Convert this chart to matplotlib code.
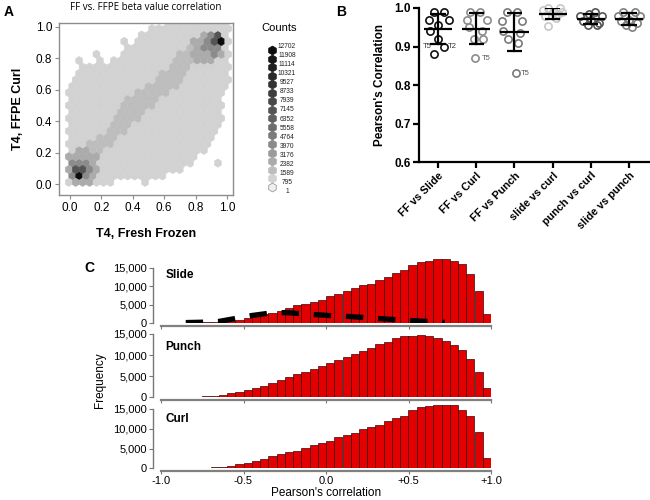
import numpy as np
import matplotlib
matplotlib.use('Agg')
import matplotlib.pyplot as plt
from matplotlib.path import Path
from matplotlib.colors import ListedColormap, BoundaryNorm
from matplotlib.ticker import FuncFormatter

plt.rcParams['font.family'] = ['Liberation Sans', 'DejaVu Sans']

# ---------------- Panel A data (hexbin density regions) ----------------
count_levels = [12702, 11908, 11114, 10321, 9527, 8733, 7939, 7145, 6352, 5558,
                4764, 3970, 3176, 2382, 1589, 795, 1]
level_greys = ['#0d0d0d', '#161616', '#1f1f1f', '#292929', '#333333', '#3d3d3d',
               '#484848', '#545454', '#616161', '#6e6e6e', '#7c7c7c', '#8b8b8b',
               '#9b9b9b', '#ababab', '#bdbdbd', '#d2d2d2', '#efefef']

# outer envelope of all points (lightest grey)
env_x = [-0.02, -0.02, 0.0, 0.03, 0.06, 0.25, 0.30, 0.36, 0.42, 0.48, 0.55, 0.63, 1.02,
         1.02, 1.02, 0.98, 0.96, 0.91, 0.85, 0.79, 0.70, 0.62, 0.51, 0.35, 0.10]
env_y = [-0.02, 0.53, 0.65, 0.72, 0.77, 0.78, 0.81, 0.87, 0.93, 0.98, 1.01, 1.03, 1.03,
         0.90, 0.62, 0.53, 0.39, 0.28, 0.20, 0.13, 0.09, 0.05, 0.03, 0.02, -0.02]
body_count = 795

# diagonal band (medium grey)
band_x = [0.02, 0.11, 0.21, 0.28, 0.36, 0.47, 0.57, 0.64, 0.70, 0.79, 0.85,
          0.95, 0.83, 0.74, 0.68, 0.57, 0.47, 0.40, 0.30, 0.19, 0.14, 0.04]
band_y = [0.20, 0.25, 0.33, 0.45, 0.56, 0.61, 0.68, 0.78, 0.83, 0.90, 0.95,
          0.82, 0.78, 0.71, 0.62, 0.53, 0.45, 0.37, 0.28, 0.18, 0.06, 0.0]
band_count = 1589

# dense spots near (0,0) and (1,1)
spot_x = [0.08, 0.065, 0.055, 0.05, 0.87, 0.91, 0.94, 0.965]
spot_y = [0.11, 0.085, 0.075, 0.07, 0.86, 0.89, 0.91, 0.93]
spot_r = [0.11, 0.07, 0.04, 0.0, 0.10, 0.07, 0.04, 0.0]
spot_count = [2382, 3970, 7145, 12702, 2382, 3970, 7145, 12702]

# isolated hexes
stray_x = [0.047, 0.19, 0.19, 0.33, 0.35, 0.47, 0.95]
stray_y = [0.77, 0.83, 0.79, 0.92, 0.04, 0.0, 0.14]

# ---------------- Panel B data ----------------
pair_labels = ['FF vs Slide', 'FF vs Curl', 'FF vs Punch', 'slide vs curl',
               'punch vs curl', 'slide vs punch']
r_ff_slide = [0.99, 0.99, 0.97, 0.97, 0.955, 0.94, 0.92, 0.90, 0.88]
r_ff_curl = [0.99, 0.99, 0.97, 0.97, 0.95, 0.94, 0.92, 0.92, 0.87]
r_ff_punch = [0.99, 0.99, 0.965, 0.965, 0.94, 0.935, 0.92, 0.91, 0.83]
r_slide_curl = [1.0, 1.0, 0.995, 0.99, 0.99, 0.985, 0.98, 0.975, 0.953]
r_punch_curl = [0.99, 0.985, 0.98, 0.98, 0.97, 0.965, 0.96, 0.955, 0.955]
r_slide_punch = [0.99, 0.99, 0.98, 0.98, 0.97, 0.965, 0.96, 0.955, 0.95]

jit_ff_slide = [-0.11, 0.15, -0.24, 0.28, 0.0, -0.22, 0.0, 0.15, -0.11]
jit_ff_curl = [-0.16, 0.10, -0.24, 0.28, -0.2, 0.15, -0.07, 0.17, -0.03]
jit_ff_punch = [-0.2, 0.06, -0.33, 0.19, -0.29, 0.15, -0.16, 0.10, 0.04]
jit_slide_curl = [-0.12, 0.18, -0.25, 0.25, 0.0, 0.15, -0.2, 0.08, -0.11]
jit_punch_curl = [0.10, -0.05, -0.28, 0.28, 0.0, -0.2, 0.22, -0.08, 0.15]
jit_slide_punch = [-0.15, 0.15, -0.3, 0.28, 0.0, -0.2, 0.2, -0.08, 0.08]

# ---------------- Panel C data (counts per 0.05-wide bin, -1.0 .. +1.0) ----------------
hist_slide = [50, 80, 100, 150, 200, 250, 350, 500, 700, 1000,
              1400, 1900, 2400, 2900, 3300, 4200, 4900, 5200, 5700, 6400,
              7300, 8000, 8800, 9400, 10200, 10600, 11600, 12500, 13600, 14500,
              15700, 16400, 16800, 17300, 17300, 16900, 15900, 13200, 8600, 2450]
hist_punch = [30, 40, 60, 80, 120, 200, 300, 500, 900, 1300,
              1700, 2100, 2700, 3400, 4000, 4700, 5400, 6100, 6800, 7500,
              8100, 8800, 9500, 10200, 11000, 11600, 12600, 13000, 14000, 14400,
              14600, 14800, 14600, 14100, 13300, 12400, 11200, 9100, 6100, 2300]
hist_curl = [30, 40, 60, 80, 120, 200, 300, 400, 700, 1000,
             1400, 1900, 2400, 3000, 3500, 4000, 4300, 5200, 5900, 6300,
             6900, 8000, 8300, 9000, 9900, 10500, 11000, 12000, 12600, 13300,
             14800, 15600, 15800, 16000, 16000, 15900, 14800, 13300, 9300, 2700]
null_x = [-0.85, -0.75, -0.65, -0.55, -0.45, -0.35, -0.25, -0.15, -0.05, 0.05,
          0.15, 0.25, 0.35, 0.45, 0.55, 0.65, 0.72]
null_y = [200, 300, 500, 1300, 2100, 2700, 2900, 2600, 2300, 2000,
          1800, 1500, 1200, 900, 650, 400, 250]
c_names = ['Slide', 'Punch', 'Curl']
c_xticklabels = ['-1.0', '-0.5', '0.0', '+0.5', '+1.0']

# ---------------- figure ----------------
W, H = 650, 500
fig = plt.figure(figsize=(6.5, 5), dpi=100)


def rect(l, t, r, b):
    return [l / W, 1 - b / H, (r - l) / W, (b - t) / H]


# ===== Panel A =====
axA = fig.add_axes(rect(59, 23, 233, 195))
ext = (-0.03, 1.03, -0.03, 1.03)
nx = 24
ny = int(nx / np.sqrt(3))
sxh = (ext[1] - ext[0]) / nx
syh = (ext[3] - ext[2]) / ny
c1x, c1y = np.meshgrid(ext[0] + np.arange(nx + 1) * sxh, ext[2] + np.arange(ny + 1) * syh)
c2x, c2y = np.meshgrid(ext[0] + (np.arange(nx) + 0.5) * sxh, ext[2] + (np.arange(ny) + 0.5) * syh)
px = np.concatenate([c1x.ravel(), c2x.ravel()])
py = np.concatenate([c1y.ravel(), c2y.ravel()])
pts = np.column_stack([px, py])
cnt = np.zeros(len(px))
cnt[Path(np.column_stack([env_x, env_y])).contains_points(pts)] = body_count
for sx, sy in zip(stray_x, stray_y):
    j = np.argmin(np.hypot(px - sx, py - sy))
    cnt[j] = max(cnt[j], body_count)
m = Path(np.column_stack([band_x, band_y])).contains_points(pts)
cnt[m] = np.maximum(cnt[m], band_count)
for sx, sy, sr, sc in zip(spot_x, spot_y, spot_r, spot_count):
    d = np.hypot(px - sx, py - sy)
    m = d <= max(sr, d.min())
    cnt[m] = np.maximum(cnt[m], sc)
keep = cnt > 0

lv = np.array(count_levels[::-1], dtype=float)
bounds = np.concatenate([[0.5], (lv[:-1] + lv[1:]) / 2, [13500]])
cmap = ListedColormap(level_greys[::-1])
norm = BoundaryNorm(bounds, cmap.N)
axA.hexbin(px[keep], py[keep], C=cnt[keep], reduce_C_function=np.max, gridsize=nx,
           extent=ext, cmap=cmap, norm=norm, edgecolors='face', linewidths=0.3)
axA.set_xlim(-0.07, 1.038)
axA.set_ylim(-0.07, 1.025)
ticks = [0.0, 0.2, 0.4, 0.6, 0.8, 1.0]
axA.set_xticks(ticks)
axA.set_yticks(ticks)
axA.set_xticklabels([f'{t:.1f}' for t in ticks])
axA.set_yticklabels([f'{t:.1f}' for t in ticks])
for s in axA.spines.values():
    s.set_color('#8c8c8c')
    s.set_linewidth(1.0)
axA.tick_params(direction='out', length=3, color='#8c8c8c', labelsize=8.5, pad=2)
axA.set_xlabel('T4, Fresh Frozen', fontsize=9, fontweight='bold', labelpad=10)
axA.set_ylabel('T4, FFPE Curl', fontsize=9, fontweight='bold', labelpad=8)
axA.set_title('FF vs. FFPE beta value correlation', fontsize=7, family=['Open Sans', 'DejaVu Sans'], pad=9)
fig.text(4 / W, 1 - 12 / H, 'A', fontsize=10, fontweight='bold', va='center')

# legend (Counts)
axL = fig.add_axes(rect(262, 45.7, 300, 191))
axL.set_xlim(0, 38)
axL.set_ylim(len(count_levels) - 0.5, -0.5)
axL.axis('off')
for i, (c, col) in enumerate(zip(count_levels, level_greys)):
    axL.plot([9.7], [i], marker='h', markersize=6.3, color=col,
             markeredgecolor='#9a9a9a' if i == len(count_levels) - 1 else col,
             markeredgewidth=0.6, clip_on=False)
    axL.text(25, -0.4 + i * 1.06, str(c), fontsize=4.8, ha='center', va='center', color='#222222')
fig.text(279 / W, 1 - 28 / H, 'Counts', fontsize=8, ha='center', va='center')

# ===== Panel B =====
axB = fig.add_axes(rect(419, 8, 650, 162))
groups = [r_ff_slide, r_ff_curl, r_ff_punch, r_slide_curl, r_punch_curl, r_slide_punch]
jits = [jit_ff_slide, jit_ff_curl, jit_ff_punch, jit_slide_curl, jit_punch_curl, jit_slide_punch]
gcols = ['#111111', '#8c8c8c', '#7a7a7a', '#c8c8c8', '#555555', '#808080']
for i, (vals, jj, col) in enumerate(zip(groups, jits, gcols)):
    xs = i + np.array(jj)
    axB.plot(xs, vals, 'o', mfc='none', mec=col, mew=1.2, ms=5.2, clip_on=False, zorder=3)
    mu = np.mean(vals)
    sd = np.std(vals, ddof=1)
    axB.plot([i - 0.37, i + 0.37], [mu, mu], color='black', lw=1.6, zorder=4, solid_capstyle='butt')
    axB.plot([i, i], [mu - sd, mu + sd], color='black', lw=1.6, zorder=4)
    for yv in (mu - sd, mu + sd):
        axB.plot([i - 0.2, i + 0.2], [yv, yv], color='black', lw=1.6, zorder=4, solid_capstyle='butt')
axB.text(-0.29, 0.90, 'T5', fontsize=5.5, ha='center', va='center', color='#333333')
axB.text(0.37, 0.90, 'T2', fontsize=5.5, ha='center', va='center', color='#333333')
axB.text(1.25, 0.87, 'T5', fontsize=5.5, ha='center', va='center', color='#555555')
axB.text(2.28, 0.83, 'T5', fontsize=5.5, ha='center', va='center', color='#555555')
axB.set_xlim(-0.5, 5.55)
axB.set_ylim(0.6, 1.0)
axB.set_yticks([0.6, 0.7, 0.8, 0.9, 1.0])
axB.set_yticklabels(['0.6', '0.7', '0.8', '0.9', '1.0'], fontweight='bold', fontsize=8.5)
axB.set_xticks(range(len(pair_labels)))
axB.set_xticklabels(pair_labels, rotation=45, ha='right', rotation_mode='anchor',
                    fontweight='bold', fontsize=7.8)
axB.spines['top'].set_visible(False)
axB.spines['right'].set_visible(False)
for s in ('left', 'bottom'):
    axB.spines[s].set_linewidth(1.6)
axB.tick_params(direction='out', length=4, width=1.6, pad=2)
axB.set_ylabel("Pearson's Correlation", fontsize=8.5, fontweight='bold', labelpad=6)
fig.text(336 / W, 1 - 12 / H, 'B', fontsize=10, fontweight='bold', va='center')

# ===== Panel C =====
c_rows = [(258.4, 323.3), (323.4, 397.3), (399.1, 468.3)]
c_hists = [hist_slide, hist_punch, hist_curl]
c_name_y = [13000, 11900, 12500]
bin_left = np.linspace(-1.0, 0.95, 40)
fmt = FuncFormatter(lambda v, p: f'{int(v):,}')
for k, ((top, bot), hv, nm, ny_) in enumerate(zip(c_rows, c_hists, c_names, c_name_y)):
    ax = fig.add_axes(rect(161, top, 491, bot))
    ax.patch.set_alpha(0)
    ax.bar(bin_left, hv, width=0.05, align='edge', color='#e30000',
           edgecolor='#3a0505', linewidth=0.5)
    if k == 0:
        ax.plot(null_x, null_y, color='black', lw=3.8, linestyle=(0, (3.3, 2.8)),
                solid_capstyle='butt', dash_capstyle='butt')
    ax.set_xlim(-1.0, 1.0)
    ax.set_ylim(0, 17500)
    ax.spines['top'].set_visible(False)
    ax.spines['right'].set_visible(False)
    ax.spines['left'].set_position(('outward', 6))
    ax.spines['left'].set_bounds(0, 15000)
    ax.spines['left'].set_color('#777777')
    ax.spines['left'].set_linewidth(1.0)
    ax.spines['bottom'].set_position(('outward', 2))
    ax.spines['bottom'].set_color('#808080')
    ax.spines['bottom'].set_linewidth(1.6)
    ax.set_yticks([0, 5000, 10000, 15000])
    ax.yaxis.set_major_formatter(fmt)
    ax.set_xticks([-1.0, -0.5, 0.0, 0.5, 1.0])
    ax.tick_params(axis='y', direction='out', length=3, color='#777777', labelsize=8, pad=1)
    ax.tick_params(axis='x', direction='out', length=2.5, color='#777777', labelsize=8, pad=1)
    if k < 2:
        ax.set_xticklabels([])
    else:
        ax.set_xticklabels(c_xticklabels)
        ax.set_xlabel("Pearson's correlation", fontsize=8.5, labelpad=1)
    ax.text(-0.975, ny_, nm, fontsize=8.5, fontweight='bold', ha='left', va='center')
fig.text(100 / W, 1 - 380 / H, 'Frequency', fontsize=8.5, rotation=90, ha='center', va='center')
fig.text(84 / W, 1 - 268 / H, 'C', fontsize=10, fontweight='bold', va='center')

fig.savefig('out.png', dpi=100)
